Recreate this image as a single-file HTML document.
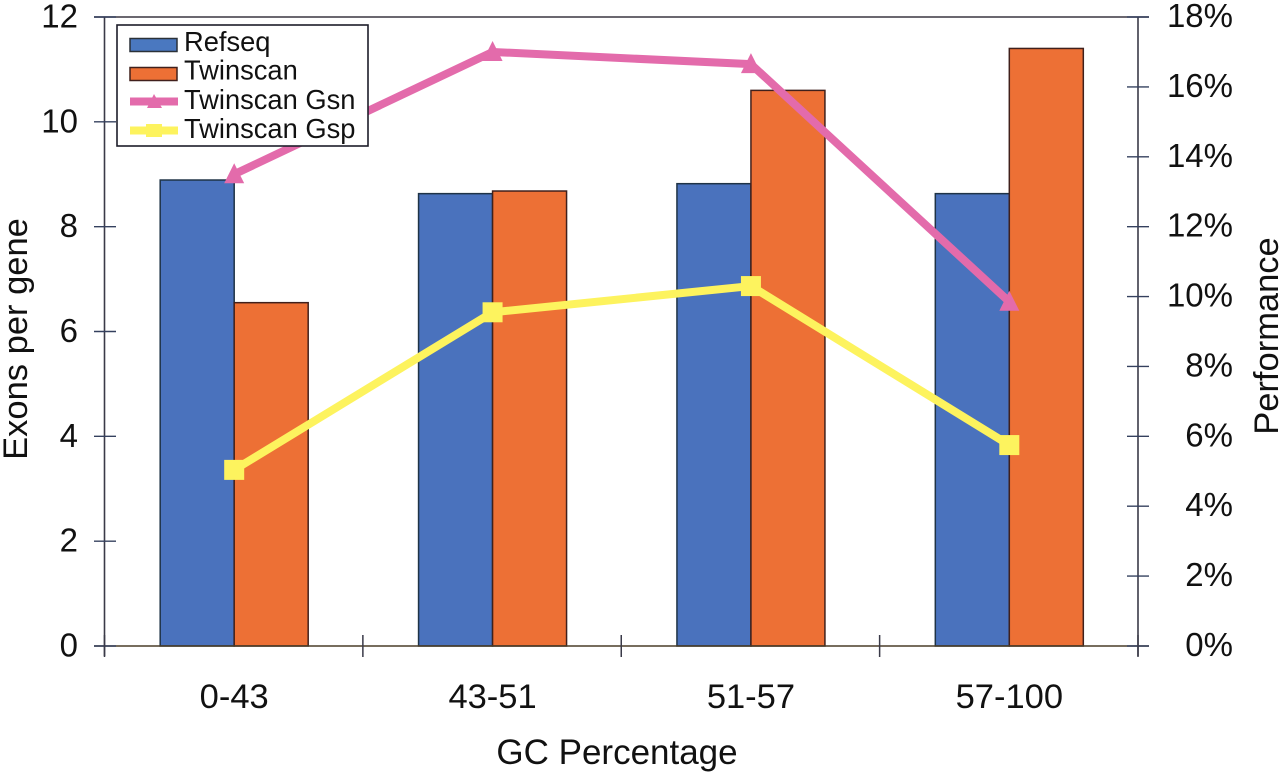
<!DOCTYPE html>
<html>
<head>
<meta charset="utf-8">
<title>Exons per gene and performance by GC percentage</title>
<style>
html,body{margin:0;padding:0;background:#fff;width:1280px;height:775px;overflow:hidden}
svg{display:block}
text{font-family:"Liberation Sans",Arial,sans-serif;fill:#111}
</style>
</head>
<body>
<svg id="chart" xmlns="http://www.w3.org/2000/svg" width="1280" height="775" viewBox="0 0 1280 775"></svg>
<script>
const categories = ["0-43", "43-51", "51-57", "57-100"];
const refseqValues = [8.89, 8.63, 8.82, 8.63];
const twinscanValues = [6.55, 8.68, 10.6, 11.4];
const gsnValues = [13.5, 17.0, 16.65, 9.85];
const gspValues = [5.04, 9.55, 10.3, 5.75];
const leftTicks = [0, 2, 4, 6, 8, 10, 12];
const rightTicks = [0, 2, 4, 6, 8, 10, 12, 14, 16, 18];

const svg = document.getElementById('chart');
const NS = 'http://www.w3.org/2000/svg';
const plot = {left: 104.5, right: 1138, top: 17, bottom: 646};
const leftMax = 12;
const rightMax = 18;
const barWidth = 74;

function yLeft(v) { return plot.bottom - (v / leftMax) * (plot.bottom - plot.top); }
function yRight(v) { return plot.bottom - (v / rightMax) * (plot.bottom - plot.top); }
function bandWidth() { return (plot.right - plot.left) / categories.length; }
function xCenter(i) { return plot.left + bandWidth() * (i + 0.5) + 0.5; }

function make(tag, attrs, parent) {
  const el = document.createElementNS(NS, tag);
  for (const k in attrs) el.setAttribute(k, attrs[k]);
  (parent || svg).appendChild(el);
  return el;
}

const axisColor = '#3a3a48';

// bars
categories.forEach(function (c, i) {
  const cx = xCenter(i);
  const b1 = make('rect', {x: cx - barWidth, y: yLeft(refseqValues[i]), width: barWidth, height: plot.bottom - yLeft(refseqValues[i]), fill: '#4a72bd', stroke: '#1f3346', 'stroke-width': 1.5});
  
  
  const b2 = make('rect', {x: cx, y: yLeft(twinscanValues[i]), width: barWidth, height: plot.bottom - yLeft(twinscanValues[i]), fill: '#ed7035', stroke: '#40201c', 'stroke-width': 1.5});
  
  
});

// axes
const axisLeft = make('line', {x1: plot.left, x2: plot.left, y1: plot.top, y2: plot.bottom + 10, stroke: axisColor, 'stroke-width': 1.6});


const axisRight = make('line', {x1: plot.right, x2: plot.right, y1: plot.top, y2: plot.bottom + 10, stroke: axisColor, 'stroke-width': 1.6});


const axisTop = make('line', {x1: 94, x2: 1149, y1: plot.top, y2: plot.top, stroke: '#3a3640', 'stroke-width': 1.5});


const axisBottom = make('line', {x1: 94, x2: 1149, y1: plot.bottom, y2: plot.bottom, stroke: '#4a3d28', 'stroke-width': 1.6});



// left ticks and labels
leftTicks.forEach(function (t) {
  const y = yLeft(t);
  const tk = make('line', {x1: 94, x2: 116, y1: y, y2: y, stroke: '#34405e', 'stroke-width': 1.4});
  
  
  const lb = make('text', {x: 78, y: y + 10.5, 'text-anchor': 'end', 'font-size': 33});
  lb.textContent = t;
  
  
});

// right ticks and labels
rightTicks.forEach(function (t) {
  const y = yRight(t);
  const tk = make('line', {x1: 1127, x2: 1149, y1: y, y2: y, stroke: '#34405e', 'stroke-width': 1.4});
  
  
  const lb = make('text', {x: 1233, y: y + 10, 'text-anchor': 'end', 'font-size': 33});
  lb.textContent = t + '%';
  
  
});

// x ticks and labels
for (let i = 0; i <= categories.length; i++) {
  const x = plot.left + bandWidth() * i;
  const tk = make('line', {x1: x, x2: x, y1: plot.bottom - 11, y2: plot.bottom + 11, stroke: axisColor, 'stroke-width': 1.5});
  
  
}
categories.forEach(function (c, i) {
  const lb = make('text', {x: xCenter(i), y: 708, 'text-anchor': 'middle', 'font-size': 34.5});
  lb.textContent = c;
  
  
});

// lines
function pointsFor(values) {
  return values.map(function (v, i) { return xCenter(i) + ',' + yRight(v); }).join(' ');
}
const gsnLine = make('polyline', {points: pointsFor(gsnValues), fill: 'none', stroke: '#e36bab', 'stroke-width': 8, 'stroke-linejoin': 'round'});


gsnValues.forEach(function (v, i) {
  const x = xCenter(i), y = yRight(v);
  const m = make('polygon', {points: (x) + ',' + (y - 11) + ' ' + (x + 10) + ',' + (y + 9) + ' ' + (x - 10) + ',' + (y + 9), fill: '#e36bab'});
  
  
});
const gspLine = make('polyline', {points: pointsFor(gspValues), fill: 'none', stroke: '#fdf35e', 'stroke-width': 8, 'stroke-linejoin': 'round'});


gspValues.forEach(function (v, i) {
  const x = xCenter(i), y = yRight(v);
  const m = make('rect', {x: x - 10, y: y - 10, width: 20, height: 20, fill: '#fdf35e'});
  
  
});

// axis titles
const xTitle = make('text', {x: 617, y: 764, 'text-anchor': 'middle', 'font-size': 35});
xTitle.textContent = 'GC Percentage';


const yTitleLeft = make('text', {x: 0, y: 0, 'text-anchor': 'middle', 'font-size': 34.5, transform: 'translate(27,339) rotate(-90)'});
yTitleLeft.textContent = 'Exons per gene';


const yTitleRight = make('text', {x: 0, y: 0, 'text-anchor': 'middle', 'font-size': 34.5, transform: 'translate(1278,336) rotate(-90)'});
yTitleRight.textContent = 'Performance';



// legend
const legend = make('g', {});


make('rect', {x: 117, y: 25, width: 251, height: 121, fill: '#fff', stroke: '#1d1d2a', 'stroke-width': 1.6}, legend);

const sw1 = make('rect', {x: 130, y: 38.5, width: 47, height: 13, fill: '#4a78c0', stroke: '#2a3138', 'stroke-width': 1.5}, legend);


const sw2 = make('rect', {x: 130, y: 67.5, width: 47, height: 13, fill: '#ed7035', stroke: '#40201c', 'stroke-width': 1.5}, legend);


const sw3 = make('line', {x1: 130, x2: 178, y1: 101.5, y2: 101.5, stroke: '#e36bab', 'stroke-width': 8}, legend);


const sw3m = make('polygon', {points: '154,94 162,108 147,108', fill: '#e36bab'}, legend);


const sw4 = make('line', {x1: 130, x2: 178, y1: 130.5, y2: 130.5, stroke: '#fdf35e', 'stroke-width': 8}, legend);


const sw4m = make('rect', {x: 146, y: 124, width: 16, height: 13, fill: '#fdf35e'}, legend);



const t1 = make('text', {x: 184, y: 51, 'font-size': 27.3}, legend);
t1.textContent = 'Refseq';


const t2 = make('text', {x: 184, y: 79.5, 'font-size': 27.3}, legend);
t2.textContent = 'Twinscan';


const t3 = make('text', {x: 184, y: 109, 'font-size': 27.3}, legend);
t3.textContent = 'Twinscan Gsn';


const t4 = make('text', {x: 184, y: 138, 'font-size': 27.3}, legend);
t4.textContent = 'Twinscan Gsp';


</script>
</body>
</html>
